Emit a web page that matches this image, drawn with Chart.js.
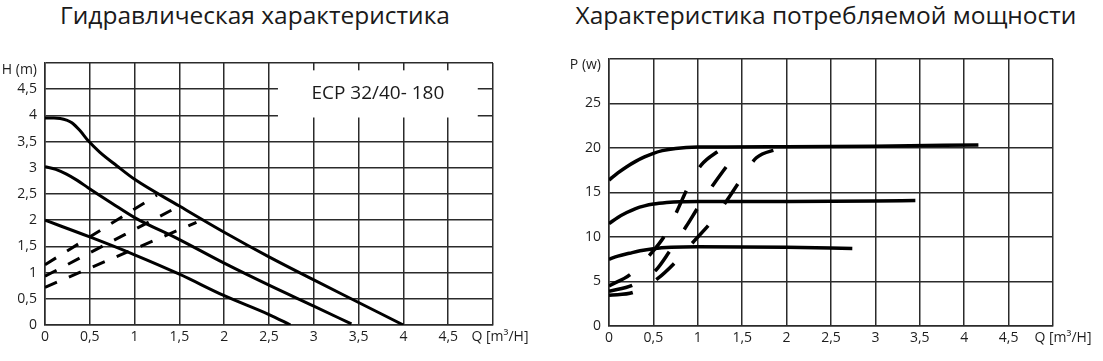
<!DOCTYPE html>
<html lang="ru">
<head>
<meta charset="utf-8">
<title>ECP 32/40-180</title>
<script src="https://cdn.jsdelivr.net/npm/chart.js@4.4.1/dist/chart.umd.min.js"></script>
<style>
  html, body { margin: 0; padding: 0; background: #fff; }
  body { width: 1103px; height: 361px; position: relative; overflow: hidden; font-family: "Open Sans", sans-serif; }
  .title { position: absolute; top: 3px; font-size: 24.5px; line-height: 24.5px; color: #1a1a1a; white-space: nowrap; transform: translateX(-50%); }
  canvas { position: absolute; top: 0; }
</style>
</head>
<body>
<div class="title" style="left:255px">Гидравлическая характеристика</div>
<div class="title" style="left:826px">Характеристика потребляемой мощности</div>
<canvas id="hydroChart" width="551" height="361" style="left:0"></canvas>
<canvas id="powerChart" width="552" height="361" style="left:551px"></canvas>
<script>
// Напор H (м) от расхода Q (м³/ч), три скорости
const qSpeed3 = [0, 0.1, 0.17, 0.24, 0.3, 0.39, 0.48, 0.61, 0.8, 1, 1.5, 2, 2.5, 3, 3.5, 4];
const hSpeed3 = [3.95, 3.95, 3.94, 3.91, 3.86, 3.71, 3.52, 3.3, 3.04, 2.78, 2.27, 1.77, 1.3, 0.86, 0.43, 0];
const qSpeed2 = [0, 0.12, 0.24, 0.36, 0.48, 0.75, 1, 1.5, 2, 2.5, 3, 3.42];
const hSpeed2 = [3.02, 2.97, 2.88, 2.76, 2.62, 2.32, 2.05, 1.63, 1.18, 0.76, 0.36, 0.02];
const qSpeed1 = [0, 0.5, 1, 1.5, 2, 2.5, 2.74];
const hSpeed1 = [2.0, 1.68, 1.34, 0.97, 0.56, 0.2, 0];

// Характеристики сети (пунктир)
const qNet1 = [0, 1.25];
const hNet1 = [1.15, 2.48];
const qNet2 = [0, 1.41];
const hNet2 = [0.93, 2.19];
const qNet3 = [0, 1.69];
const hNet3 = [0.72, 1.96];

// Потребляемая мощность P (Вт)
const qPow3 = [0, 0.1, 0.2, 0.3, 0.4, 0.5, 0.6, 0.75, 1, 2, 3, 4.16];
const pPow3 = [16.4, 17.2, 17.9, 18.5, 19.0, 19.4, 19.7, 19.95, 20.1, 20.15, 20.2, 20.35];
const qPow2 = [0, 0.1, 0.2, 0.3, 0.4, 0.5, 0.65, 0.8, 1, 2, 3, 3.45];
const pPow2 = [11.5, 12.2, 12.75, 13.2, 13.5, 13.7, 13.87, 13.97, 14.0, 14.0, 14.05, 14.1];
const qPow1 = [0, 0.1, 0.23, 0.35, 0.5, 0.7, 1, 2, 2.74];
const pPow1 = [7.5, 7.85, 8.17, 8.45, 8.68, 8.84, 8.9, 8.85, 8.7];

// Пунктирные кривые мощности
const qPowA = [0, 0.24, 0.46, 0.63, 0.77, 0.88, 1.04, 1.25];
const pPowA = [4.5, 5.8, 8.0, 10.2, 13.0, 15.4, 18.1, 19.8];
const qPowB = [0, 0.27, 0.53, 0.68, 0.87, 1.02, 1.19, 1.38];
const pPowB = [3.9, 4.6, 6.3, 8.35, 11.2, 13.6, 16.1, 18.7];
const qPowC = [0, 0.28, 0.55, 0.75, 0.96, 1.15, 1.32, 1.48, 1.66, 1.9];
const pPowC = [3.45, 3.8, 5.35, 7.2, 9.56, 11.67, 14.0, 16.4, 18.9, 19.9];

// Подписи делений
const qTickLabels = ["0", "0,5", "1", "1,5", "2", "2,5", "3", "3,5", "4", "4,5"];
const hTickLabels = ["0", "0,5", "1", "1,5", "2", "2,5", "3", "3,5", "4", "4,5"];
const pTickLabels = ["0", "5", "10", "15", "20", "25"];

const GRID = "#2b2b2b";
const TEXT = "#1e1e1e";

function pts(xs, ys) {
  return xs.map((x, i) => ({ x: x, y: ys[i] }));
}

function curve(xs, ys, width, dash) {
  return {
    data: pts(xs, ys),
    borderColor: "#000",
    borderWidth: width,
    borderDash: dash || [],
    pointRadius: 0,
    fill: false,
    cubicInterpolationMode: "monotone",
  };
}

// подписи осей у верхнего и правого края
const unitLabels = {
  id: "unitLabels",
  afterDraw(chart, args, opts) {
    const { ctx, chartArea, scales } = chart;
    ctx.save();
    ctx.font = '14px "Open Sans"';
    ctx.fillStyle = TEXT;
    ctx.textBaseline = "middle";
    ctx.textAlign = "right";
    ctx.fillText(opts.yText, chartArea.left - 8, scales.y.getPixelForValue(scales.y.max) + opts.yShift);
    ctx.textAlign = "center";
    ctx.fillText(opts.xText, scales.x.getPixelForValue(scales.x.max) + opts.xShift, chartArea.bottom + 12);
    ctx.restore();
  },
};

// рамка с названием модели
const modelBox = {
  id: "modelBox",
  beforeDatasetsDraw(chart, args, opts) {
    if (!opts.text) return;
    const { ctx, scales } = chart;
    const x1 = scales.x.getPixelForValue(opts.q[0]);
    const x2 = scales.x.getPixelForValue(opts.q[1]);
    const y1 = scales.y.getPixelForValue(opts.h[1]);
    const y2 = scales.y.getPixelForValue(opts.h[0]);
    ctx.save();
    ctx.fillStyle = "#fff";
    ctx.fillRect(x1, y1, x2 - x1, y2 - y1);
    ctx.font = '19px "Open Sans"';
    ctx.fillStyle = "#1a1a1a";
    ctx.textAlign = "center";
    ctx.textBaseline = "middle";
    ctx.fillText(opts.text, (x1 + x2) / 2, (y1 + y2) / 2);
    ctx.restore();
  },
};

function axes(yMax, yStep, yLabels, yWidth, xHeight) {
  return {
    x: {
      type: "linear",
      min: 0,
      max: 5,
      afterFit: (s) => { s.height = xHeight; },
      grid: { color: GRID, lineWidth: 1.5, drawTicks: false },
      border: { color: GRID, width: 1.5 },
      ticks: {
        stepSize: 0.5,
        padding: 4,
        color: TEXT,
        font: { family: "Open Sans", size: 14 },
        maxRotation: 0,
        callback: (v, i) => qTickLabels[i] || "",
      },
    },
    y: {
      min: 0,
      max: yMax,
      afterFit: (s) => { s.width = yWidth; },
      grid: { color: GRID, lineWidth: 1.5, drawTicks: false },
      border: { color: GRID, width: 1.5 },
      ticks: {
        stepSize: yStep,
        padding: 8,
        color: TEXT,
        font: { family: "Open Sans", size: 14 },
        callback: (v, i) => yLabels[i] || "",
      },
    },
  };
}

function initCharts() {
  // Гидравлическая характеристика
  const hydroCtx = document.getElementById("hydroChart").getContext("2d");
  new Chart(hydroCtx, {
    type: "line",
    data: {
      datasets: [
        curve(qSpeed3, hSpeed3, 3),
        curve(qSpeed2, hSpeed2, 3),
        curve(qSpeed1, hSpeed1, 3),
        curve(qNet1, hNet1, 3, [13, 13]),
        curve(qNet2, hNet2, 3, [13, 13]),
        curve(qNet3, hNet3, 3, [13, 13]),
      ],
    },
    options: {
      responsive: false,
      animation: false,
      layout: { padding: { top: 63, right: 58, bottom: 0, left: 0 } },
      plugins: {
        legend: { display: false },
        tooltip: { enabled: false },
        unitLabels: { yText: "H (m)", yShift: 7, xText: "Q [m³/H]", xShift: 7 },
        modelBox: { text: "ECP 32/40- 180", q: [2.6, 4.83], h: [3.96, 4.86] },
      },
      scales: axes(5, 0.5, hTickLabels, 45, 36),
    },
    plugins: [unitLabels, modelBox],
  });

  // Характеристика потребляемой мощности
  const powerCtx = document.getElementById("powerChart").getContext("2d");
  new Chart(powerCtx, {
    type: "line",
    data: {
      datasets: [
        curve(qPow3, pPow3, 3.5),
        curve(qPow2, pPow2, 3.5),
        curve(qPow1, pPow1, 3.5),
        curve(qPowA, pPowA, 3.5, [24, 27]),
        curve(qPowB, pPowB, 3.5, [24, 27]),
        curve(qPowC, pPowC, 3.5, [24, 27]),
      ],
    },
    options: {
      responsive: false,
      animation: false,
      layout: { padding: { top: 59, right: 50, bottom: 0, left: 0 } },
      plugins: {
        legend: { display: false },
        tooltip: { enabled: false },
        unitLabels: { yText: "P (w)", yShift: 6, xText: "Q [m³/H]", xShift: 10 },
      },
      scales: axes(30, 5, pTickLabels, 58, 35),
    },
    plugins: [unitLabels],
  });
}

document.fonts.load('14px "Open Sans"').then(initCharts, initCharts);
</script>
</body>
</html>
